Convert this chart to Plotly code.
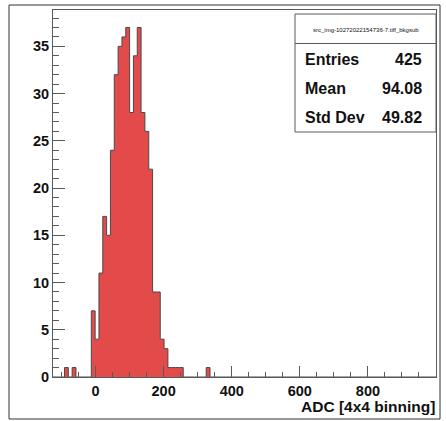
import numpy as np
import plotly.graph_objects as go

# ---------------- data ----------------
hist_min, hist_max, n_bins = -125.0, 1000.0, 100
filled_bin_index = [3, 5, 10, 11, 12, 13, 14, 15, 16, 17, 18, 19, 20, 21, 22, 23,
                    24, 25, 26, 27, 28, 29, 30, 31, 32, 33, 40]
filled_counts = [1, 1, 7, 4, 11, 17, 15, 24, 32, 35, 36, 37, 28, 34, 37, 28,
                 26, 22, 9, 9, 4, 3, 1, 1, 1, 1, 1]
stats_title = "src_img-10272022154736-7.tiff_bkgsub"
stats_labels = ["Entries", "Mean", "Std Dev"]
stats_values = ["425", "94.08", "49.82"]
x_title = "ADC [4x4 binning]"
y_max = 38.85

# ---------------- build histogram path ----------------
edges = np.linspace(hist_min, hist_max, n_bins + 1)
counts = np.zeros(n_bins)
counts[filled_bin_index] = filled_counts
xs = np.concatenate([[edges[0]], edges[:-1], [edges[-1]]])
ys = np.concatenate([[0], counts, [0]])

W, H = 446, 421
L, R, T, B = 53, 436, 10, 377  # plot frame in pixels


def px(x):
    return (x - L) / (R - L)


def py(y):
    return (B - y) / (B - T)


fig = go.Figure()
fig.add_trace(go.Scatter(
    x=xs, y=ys, mode="lines", line_shape="hv",
    line=dict(color="#4a4a4a", width=1),
    fill="tozeroy", fillcolor="rgb(227,74,74)",
    hoverinfo="skip", showlegend=False,
))

font_family = "Liberation Sans, Arial, sans-serif"
frame_col = "#5a5a5a"

fig.update_layout(
    width=W, height=H,
    margin=dict(l=L, r=W - R, t=T, b=H - B, pad=0),
    paper_bgcolor="white", plot_bgcolor="white",
    xaxis=dict(
        range=[hist_min, hist_max], showgrid=False, zeroline=False,
        showline=True, mirror=True, linecolor=frame_col, linewidth=1,
        ticks="inside", ticklen=11, tickcolor=frame_col, tickwidth=1,
        tick0=0, dtick=200, ticklabelstandoff=1,
        minor=dict(ticks="inside", ticklen=5.5, dtick=50, tick0=0,
                   tickcolor=frame_col, showgrid=False),
        tickfont=dict(family=font_family, size=14.5, color="#111", weight="bold"),
    ),
    yaxis=dict(
        range=[0, y_max], showgrid=False, zeroline=False,
        showline=True, mirror=True, linecolor=frame_col, linewidth=1,
        ticks="inside", ticklen=11.5, tickcolor=frame_col, tickwidth=1,
        tick0=0, dtick=5,
        minor=dict(ticks="inside", ticklen=5.7, dtick=1, tick0=0,
                   tickcolor=frame_col, showgrid=False),
        tickfont=dict(family=font_family, size=14.5, color="#111", weight="bold"),
    ),
)

shapes = []
# canvas border
shapes.append(dict(type="rect", xref="paper", yref="paper",
                   x0=px(9), x1=px(440), y0=py(419), y1=py(5),
                   line=dict(color="#333", width=1), fillcolor="rgba(0,0,0,0)"))
# stats box
shapes.append(dict(type="rect", xref="paper", yref="paper",
                   x0=px(295), x1=px(436), y0=py(132), y1=py(14),
                   line=dict(color=frame_col, width=1), fillcolor="white"))
shapes.append(dict(type="line", xref="paper", yref="paper",
                   x0=px(295), x1=px(436), y0=py(43.5), y1=py(43.5),
                   line=dict(color=frame_col, width=1)))
fig.update_layout(shapes=shapes)

ann = []
ann.append(dict(xref="paper", yref="paper", x=px(365.5), y=py(30),
                text=stats_title, showarrow=False, xanchor="center", yanchor="middle",
                font=dict(family=font_family, size=6, color="#111")))
row_y = [59.5, 89, 117.5]
for lab, val, yy in zip(stats_labels, stats_values, row_y):
    ann.append(dict(xref="paper", yref="paper", x=px(303), y=py(yy), text=lab,
                    showarrow=False, xanchor="left", yanchor="middle",
                    font=dict(family=font_family, size=16, color="#111", weight="bold")))
    ann.append(dict(xref="paper", yref="paper", x=px(424), y=py(yy), text=val,
                    showarrow=False, xanchor="right", yanchor="middle",
                    font=dict(family=font_family, size=16, color="#111", weight="bold")))
ann.append(dict(xref="paper", yref="paper", x=px(436), y=py(406.5), text=x_title,
                showarrow=False, xanchor="right", yanchor="middle", borderpad=0,
                font=dict(family=font_family, size=15.5, color="#111", weight="bold")))
fig.update_layout(annotations=ann)

fig.write_html("out.html")
